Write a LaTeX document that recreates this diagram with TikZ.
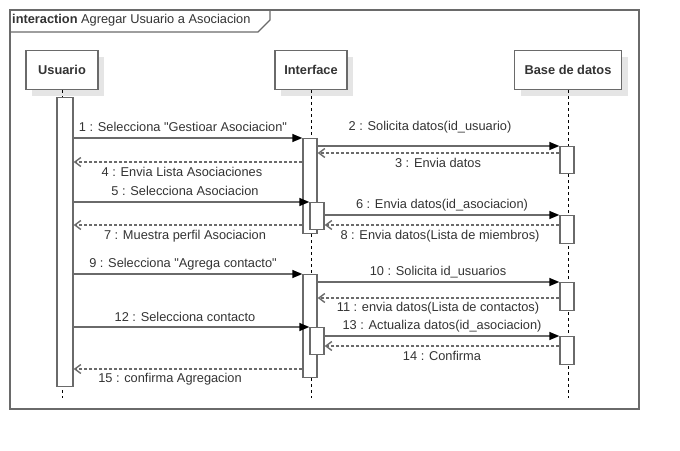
\documentclass[tikz,border=0pt]{standalone}
\usepackage{fontspec}
\setmainfont{Liberation Sans}
\usepackage{tikz}
\usetikzlibrary{positioning,arrows.meta,shadows}

\definecolor{linegray}{HTML}{6A6A6A}
\definecolor{textgray}{HTML}{333333}

\begin{document}
\begin{tikzpicture}[x=1pt,y=-1pt,font=\fontsize{12.8}{15}\selectfont,text=textgray]
    \tikzstyle{head}=[rectangle, draw=linegray, line width=1.4pt, fill=white, minimum width=72pt, minimum height=39pt, anchor=north, inner sep=0pt, text depth=0pt, font=\fontsize{12.8}{15}\selectfont\bfseries, drop shadow={shadow xshift=6pt, shadow yshift=-6pt, fill=black!10, opacity=1}]
    \tikzstyle{act}=[rectangle, draw=linegray, line width=1.4pt, fill=white, minimum width=14pt, anchor=north, inner sep=0pt]
    \tikzstyle{life}=[draw=black, dash pattern=on 3pt off 3pt, line width=1pt]
    \tikzstyle{call}=[draw=linegray, line width=1.4pt, -{Triangle[length=10pt,width=8pt,black]}]
    \tikzstyle{reply}=[draw=linegray, line width=1.4pt, dash pattern=on 3pt off 2pt, -{Straight Barb[length=6pt,width=9pt]}]
    \tikzstyle{msg}=[inner sep=0pt]

    \useasboundingbox (0,0) rectangle (680,450);

    % frame
    \draw[linegray, line width=1.4pt] (10,10) rectangle (639,409);
    \draw[linegray, line width=1.4pt] (10,32) -- (258,32) -- (270,20) -- (270,10);
    \node[msg, anchor=west] (title) at (12,20) {\textbf{interaction} Agregar Usuario a Asociacion};

    % heads
    \node[head] (usuario) at (62,50) {Usuario};
    \node[head] (interface) at (311,50) {Interface};
    \node[head, minimum width=107pt] (base) at (568,50) {Base de datos};

    % lifelines
    \coordinate (uend) at (62,398);
    \coordinate (iend) at (311,398);
    \coordinate (bend) at (568,398);
    \path[life] (usuario) -- (uend);
    \path[life] (interface) -- (iend);
    \path[life] (base) -- (bend);

    % activations
    \node[act, minimum width=16pt, minimum height=289pt] (ua) at (65,97) {};
    \node[act, minimum height=95pt] (ia1) at (310,138) {};
    \node[act, minimum height=27pt] (ib1) at (317,202) {};
    \node[act, minimum height=103pt] (ia2) at (310,274) {};
    \node[act, minimum height=27pt] (ib2) at (317,327) {};
    \node[act, minimum height=27pt] (ba1) at (567,146) {};
    \node[act, minimum height=28pt] (ba2) at (567,215) {};
    \node[act, minimum height=28pt] (ba3) at (567,282) {};
    \node[act, minimum height=28pt] (ba4) at (567,336) {};

    % message rows
    \coordinate (r3) at (0,153);
    \coordinate (r4) at (0,162);
    \coordinate (r7) at (0,225);
    \coordinate (r11) at (0,298);
    \coordinate (r14) at (0,346);
    \coordinate (r15) at (0,369);

    \path[call] (ua.east |- ia1.north) -- (ia1.north west);
    \path[call] (ia1.east |- ba1.north) -- (ba1.north west);
    \path[reply] (ba1.west |- r3) -- (ia1.east |- r3);
    \path[reply] (ia1.west |- r4) -- (ua.east |- r4);
    \path[call] (ua.east |- ib1.north) -- (ib1.north west);
    \path[call] (ib1.east |- ba2.north) -- (ba2.north west);
    \path[reply] (ia1.west |- r7) -- (ua.east |- r7);
    \path[reply] (ba2.west |- r7) -- (ib1.east |- r7);
    \path[call] (ua.east |- ia2.north) -- (ia2.north west);
    \path[call] (ia2.east |- ba3.north) -- (ba3.north west);
    \path[reply] (ba3.west |- r11) -- (ia2.east |- r11);
    \path[call] (ua.east |- ib2.north) -- (ib2.north west);
    \path[call] (ib2.east |- ba4.north) -- (ba4.north west);
    \path[reply] (ba4.west |- r14) -- (ib2.east |- r14);
    \path[reply] (ia2.west |- r15) -- (ua.east |- r15);

    % labels
    \node[msg] (m1) at (183,127) {1 : Selecciona \textquotedbl Gestioar Asociacion\textquotedbl};
    \node[msg] (m2) at (430,127) {2 : Solicita datos(id\_usuario)};
    \node[msg] (m3) at (438,163) {3 : Envia datos};
    \node[msg] (m4) at (182,172) {4 : Envia Lista Asociaciones};
    \node[msg] (m5) at (185,191) {5 : Selecciona Asociacion};
    \node[msg] (m6) at (442,205) {6 : Envia datos(id\_asociacion)};
    \node[msg] (m7) at (185,236) {7 : Muestra perfil Asociacion};
    \node[msg] (m8) at (440,236) {8 : Envia datos(Lista de miembros)};
    \node[msg] (m9) at (183,264) {9 : Selecciona \textquotedbl Agrega contacto\textquotedbl};
    \node[msg] (m10) at (438,272) {10 : Solicita id\_usuarios};
    \node[msg] (m11) at (438,308) {11 : envia datos(Lista de contactos)};
    \node[msg] (m12) at (185,317) {12 : Selecciona contacto};
    \node[msg] (m13) at (442,326) {13 : Actualiza datos(id\_asociacion)};
    \node[msg] (m14) at (442,356) {14 : Confirma};
    \node[msg] (m15) at (170,379) {15 : confirma Agregacion};
\end{tikzpicture}
\end{document}
